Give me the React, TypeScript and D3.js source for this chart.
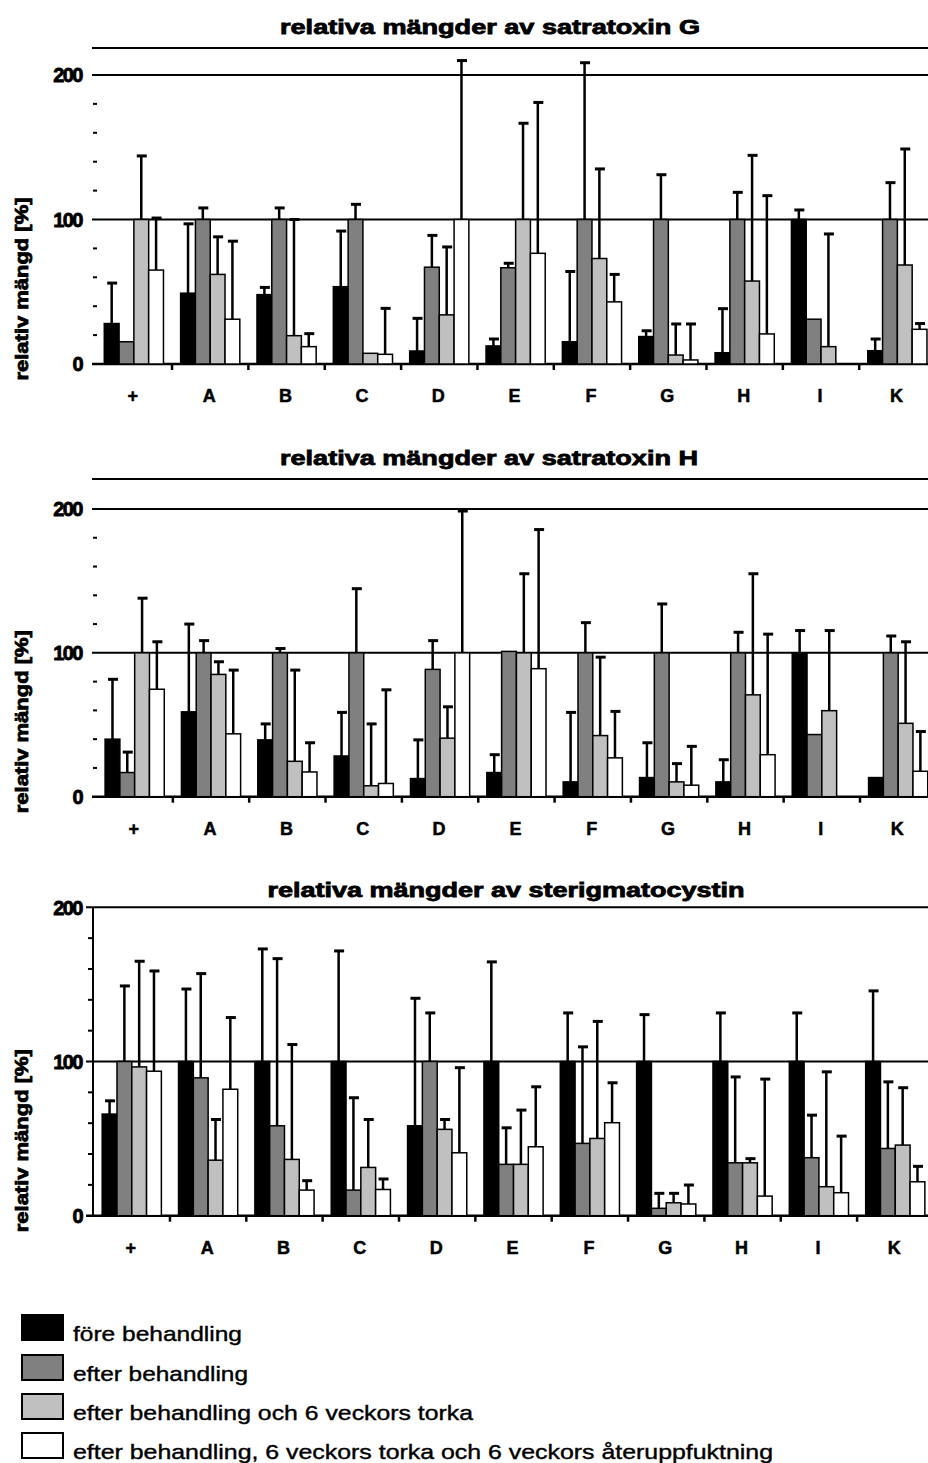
import React from 'react';
import * as d3 from 'd3';

// categories (sample groups) along the x axis
const categories = ['+', 'A', 'B', 'C', 'D', 'E', 'F', 'G', 'H', 'I', 'K'];

const seriesNames = [
  'före behandling',
  'efter behandling',
  'efter behandling och 6 veckors torka',
  'efter behandling, 6 veckors torka och 6 veckors återuppfuktning',
];
const seriesColors = ['#000000', '#808080', '#c0c0c0', '#ffffff'];

const yTicks = [0, 100, 200];
const yMinorTicks = [20, 40, 60, 80, 120, 140, 160, 180];

// satratoxin G (means and upper error)
const satG_fore = [28, 49, 48, 53.5, 9, 12.5, 15.4, 19, 7.8, 100, 9.2];
const satG_fore_err = [28, 48, 5, 38.5, 22.6, 4.8, 48.6, 4, 30.5, 6.6, 8.1];
const satG_efter = [15.4, 100, 100, 100, 67, 66.6, 100, 100, 100, 31, 100];
const satG_efter_err = [0, 8, 8, 10.5, 22, 3.1, 108.5, 31, 18.8, 0, 25.5];
const satG_torka = [100, 62, 19.6, 7.4, 34, 100, 73, 6.2, 57.4, 12, 68.5];
const satG_torka_err = [44, 26, 80.4, 0, 47, 66.6, 62, 21.5, 87, 78, 80.3];
const satG_fukt = [65, 31, 12, 6.7, 100, 76.6, 43, 2.8, 20.8, 0, 24];
const satG_fukt_err = [36, 54, 9, 31.8, 110, 104.4, 19, 24.9, 95.7, 0, 4];

// satratoxin H
const satH_fore = [40, 59, 39.5, 28.3, 12.6, 16.8, 10.3, 13.3, 10.3, 100, 13.3];
const satH_fore_err = [41.6, 61, 11.1, 30.3, 26.9, 12.4, 48.3, 24.2, 15.4, 15.5, 0];
const satH_efter = [16.8, 100, 100, 100, 88.5, 101, 100, 100, 100, 43.2, 100];
const satH_efter_err = [14.2, 8.5, 3, 44.6, 20, 0, 21, 34, 14.3, 0, 11.7];
const satH_torka = [100, 85, 24.6, 7.6, 40.7, 100, 42.5, 10.3, 70.8, 59.8, 51];
const satH_torka_err = [38, 8.8, 63.4, 43, 21.8, 55, 54.5, 12.7, 84.2, 55.7, 56.7];
const satH_fukt = [74.7, 43.7, 17.2, 9.2, 100, 89, 27, 8, 29.2, 0, 17.7];
const satH_fukt_err = [33, 44.3, 20.3, 65.1, 98.6, 96.7, 32.3, 27, 83.8, 0, 27.6];

// sterigmatocystin
const ster_fore = [65.9, 100, 100, 100, 58.3, 100, 100, 100, 100, 100, 100];
const ster_fore_err = [8.6, 47, 73, 71.7, 82.7, 64.6, 31.5, 30.4, 31.5, 31.5, 45.8];
const ster_efter = [100, 89.4, 58.3, 16.6, 100, 33.3, 46.9, 4.8, 34.3, 37.6, 43.6];
const ster_efter_err = [49, 67.6, 108.4, 59.9, 31.5, 23.7, 62.6, 9.7, 55.7, 27.6, 43.2];
const ster_torka = [96.5, 36, 36.5, 31.3, 56, 33.3, 50.1, 8.4, 34.3, 18.8, 45.8];
const ster_torka_err = [68.5, 26.4, 74.5, 31.1, 6.4, 35.2, 75.9, 6.1, 2.7, 74.5, 37.2];
const ster_fukt = [93.7, 82, 16.6, 17, 40.8, 44.7, 60.3, 7.6, 12.7, 14.9, 22];
const ster_fukt_err = [65, 46.5, 6.1, 6.8, 55.2, 38.9, 25.9, 12.3, 75.9, 36.7, 10];

const W = 928;
const H = 1463;
const FONT = '"Liberation Sans", Arial, sans-serif';
const GROUP_W = 76.35;

type PanelProps = {
  title: string;
  titleX: number;
  titleY: number;
  titleLen: number;
  values: number[][];
  errs: number[][];
  y0: number;
  y200: number;
  topLine: number | null;
  axisLine: boolean;
  x0: number;
};

// heavy text, the original glyphs are very fat
const heavy = { fontFamily: FONT, fontWeight: 'bold' as const, stroke: '#000', strokeWidth: 0.8 };

function Panel({ title, titleX, titleY, titleLen, values, errs, y0, y200, topLine, axisLine, x0 }: PanelProps) {
  const x = d3.scaleBand<string>().domain(categories).range([x0, x0 + categories.length * GROUP_W]);
  const inner = d3.scaleBand<number>().domain([0, 1, 2, 3]).range([0, x.bandwidth()]).paddingOuter(0.58);
  const y = d3.scaleLinear().domain([0, 200]).range([y0, y200]);
  const lineStart = axisLine ? 86 : 92;

  return (
    <g>
      <text x={titleX} y={titleY} textAnchor="middle" {...heavy} fontSize={20}
        textLength={titleLen} lengthAdjust="spacingAndGlyphs">{title}</text>
      {topLine !== null && <line x1={92} x2={W} y1={topLine} y2={topLine} stroke="#000" strokeWidth={2} />}

      {yTicks.map(t => (
        <g key={t}>
          <line x1={lineStart} x2={W} y1={y(t)} y2={y(t)} stroke="#000" strokeWidth={t === 0 ? 2.5 : 2} />
          <text x={82} y={y(t)} dy="0.36em" textAnchor="end" {...heavy} fontSize={20}
            letterSpacing={-1.5}>{t}</text>
        </g>
      ))}
      {yMinorTicks.map(t => (
        <line key={t} x1={axisLine ? 88 : 93} x2={axisLine ? 93 : 97} y1={y(t)} y2={y(t)} stroke="#000" strokeWidth={2} />
      ))}
      {axisLine && <line x1={93} x2={93} y1={y(0) + 1} y2={y(200)} stroke="#000" strokeWidth={2} />}

      <text transform={`translate(28,${y0 - 75}) rotate(-90)`} textAnchor="middle" {...heavy}
        fontSize={18} textLength={183} lengthAdjust="spacingAndGlyphs">relativ mängd [%]</text>

      {categories.slice(1).map(c => (
        <line key={c} x1={x(c)!} x2={x(c)!} y1={y0} y2={y0 + 6} stroke="#000" strokeWidth={2.5} />
      ))}
      {categories.map(c => (
        <text key={c} x={x(c)! + x.bandwidth() / 2 - 1} y={y0 + 38} textAnchor="middle" {...heavy}
          strokeWidth={0.5} fontSize={18}>{c}</text>
      ))}

      {values.map((vals, s) => vals.map((v, i) => v > 0 && (
        <rect key={`b${s}-${i}`} x={x(categories[i])! + inner(s)!} width={inner.bandwidth()}
          y={y(v)} height={y0 - y(v)} fill={seriesColors[s]} stroke="#000" strokeWidth={1.5} />
      )))}
      {errs.map((es, s) => es.map((e, i) => {
        if (!(e > 0)) return null;
        const cx = x(categories[i])! + inner(s)! + inner.bandwidth() / 2;
        const top = y(values[s][i] + e);
        return (
          <g key={`e${s}-${i}`}>
            <line x1={cx} x2={cx} y1={y(values[s][i])} y2={top} stroke="#000" strokeWidth={2.5} />
            <line x1={cx - 4.5} x2={cx + 5.5} y1={top} y2={top} stroke="#000" strokeWidth={3} />
          </g>
        );
      }))}
    </g>
  );
}

export default function App() {
  const legendTop = [1315, 1355, 1394, 1433];
  const legendLen = [169, 175, 400, 700];
  return (
    <svg width={W} height={H} style={{ position: 'absolute', left: 0, top: 0, background: '#fff' }} overflow="hidden">
      <rect width={W} height={H} fill="#fff" />
      <Panel title="relativa mängder av satratoxin G" titleX={490} titleY={34} titleLen={420}
        values={[satG_fore, satG_efter, satG_torka, satG_fukt]}
        errs={[satG_fore_err, satG_efter_err, satG_torka_err, satG_fukt_err]}
        y0={364} y200={75} topLine={48} axisLine={false} x0={95.7} />
      <Panel title="relativa mängder av satratoxin H" titleX={489} titleY={465} titleLen={418}
        values={[satH_fore, satH_efter, satH_torka, satH_fukt]}
        errs={[satH_fore_err, satH_efter_err, satH_torka_err, satH_fukt_err]}
        y0={796.7} y200={509} topLine={479} axisLine={false} x0={96.5} />
      <Panel title="relativa mängder av sterigmatocystin" titleX={506} titleY={897} titleLen={477}
        values={[ster_fore, ster_efter, ster_torka, ster_fukt]}
        errs={[ster_fore_err, ster_efter_err, ster_torka_err, ster_fukt_err]}
        y0={1215.7} y200={907.3} topLine={null} axisLine={true} x0={93.6} />

      {seriesNames.map((name, i) => (
        <g key={name}>
          <rect x={22} y={legendTop[i]} width={41} height={25} fill={seriesColors[i]} stroke="#000" strokeWidth={2} />
          <text x={73} y={legendTop[i] + 26} fontFamily={FONT} fontSize={21} stroke="#000" strokeWidth={0.4}
            textLength={legendLen[i]} lengthAdjust="spacingAndGlyphs">{name}</text>
        </g>
      ))}
    </svg>
  );
}
